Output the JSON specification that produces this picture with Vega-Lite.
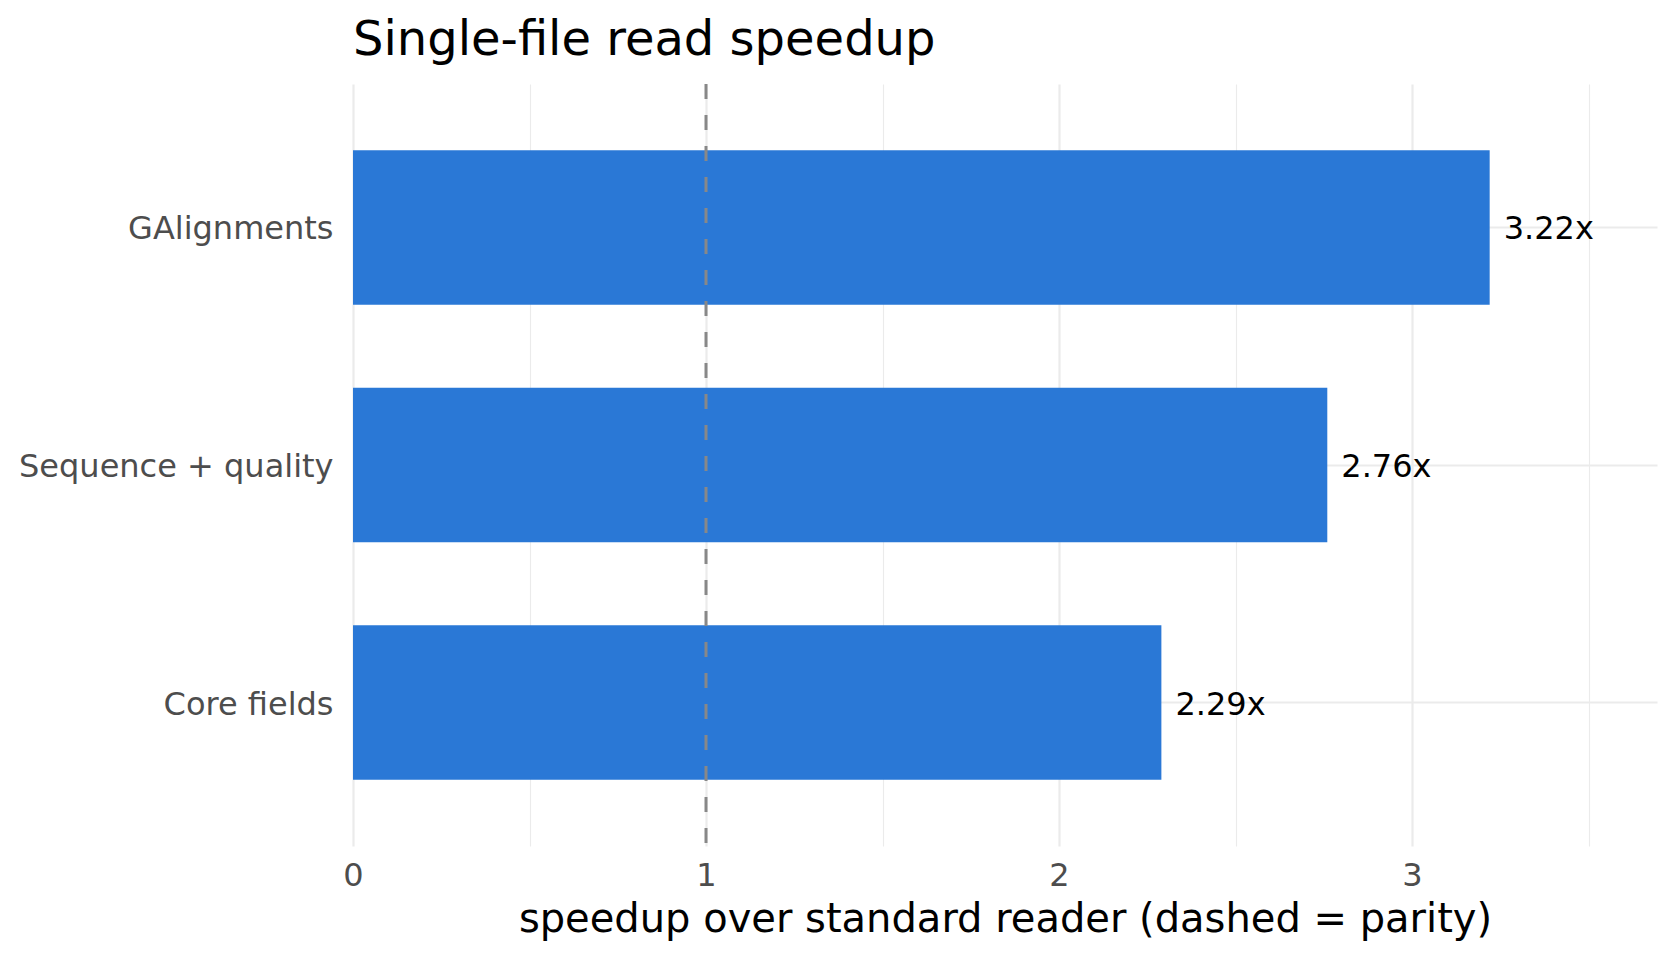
{
  "$schema": "https://vega.github.io/schema/vega-lite/v6.json",
  "width": 1304,
  "height": 762,
  "autosize": {"type": "none"},
  "padding": {"left": 353, "top": 84, "right": 23, "bottom": 114},
  "background": "white",
  "config": {"view": {"stroke": null}, "font": "DejaVu Sans"},
  "title": {
    "text": "Single-file read speedup",
    "anchor": "start",
    "frame": "group",
    "fontSize": 48,
    "fontWeight": "normal",
    "font": "DejaVu Sans",
    "color": "#000000",
    "baseline": "alphabetic",
    "offset": -20
  },
  "data": {
    "values": [
      {"mode": "GAlignments", "speedup": 3.22, "label": "3.22x"},
      {"mode": "Sequence + quality", "speedup": 2.76, "label": "2.76x"},
      {"mode": "Core fields", "speedup": 2.29, "label": "2.29x"}
    ]
  },
  "encoding": {
    "y": {
      "field": "mode",
      "type": "nominal",
      "sort": ["GAlignments", "Sequence + quality", "Core fields"],
      "scale": {"paddingInner": 0.35, "paddingOuter": 0.279},
      "axis": {
        "title": null,
        "domain": false,
        "ticks": false,
        "grid": true,
        "bandPosition": 0.5,
        "gridColor": "#EBEBEB",
        "gridWidth": 2.2,
        "labelFontSize": 32,
        "labelColor": "#4D4D4D",
        "labelPadding": 20,
        "labelLimit": 0,
        "labelOffset": 2
      }
    },
    "x": {
      "field": "speedup",
      "type": "quantitative",
      "scale": {"domain": [0, 3.694], "nice": false, "zero": true},
      "axis": {
        "title": "speedup over standard reader (dashed = parity)",
        "titleFontSize": 40,
        "titleFontWeight": "normal",
        "titleColor": "#000000",
        "titlePadding": 8,
        "values": [0, 0.5, 1, 1.5, 2, 2.5, 3, 3.5],
        "labelExpr": "datum.value % 1 === 0 ? format(datum.value, 'd') : ''",
        "labelFlush": false,
        "domain": false,
        "ticks": false,
        "grid": true,
        "gridColor": "#EBEBEB",
        "gridWidth": {"condition": {"test": "datum.value % 1 === 0", "value": 2.2}, "value": 1.1},
        "labelFontSize": 32,
        "labelColor": "#4D4D4D",
        "labelPadding": 14
      }
    }
  },
  "layer": [
    {"mark": {"type": "bar", "color": "#2A78D6"}},
    {
      "mark": {"type": "text", "align": "left", "baseline": "middle", "dx": 14, "dy": 2, "fontSize": 32, "color": "#000000"},
      "encoding": {"text": {"field": "label"}}
    },
    {
      "data": {"values": [{"parity": 1}]},
      "mark": {"type": "rule", "strokeDash": [15, 16], "strokeWidth": 3, "color": "#888888"},
      "encoding": {"x": {"field": "parity", "type": "quantitative"}, "y": null}
    }
  ]
}
